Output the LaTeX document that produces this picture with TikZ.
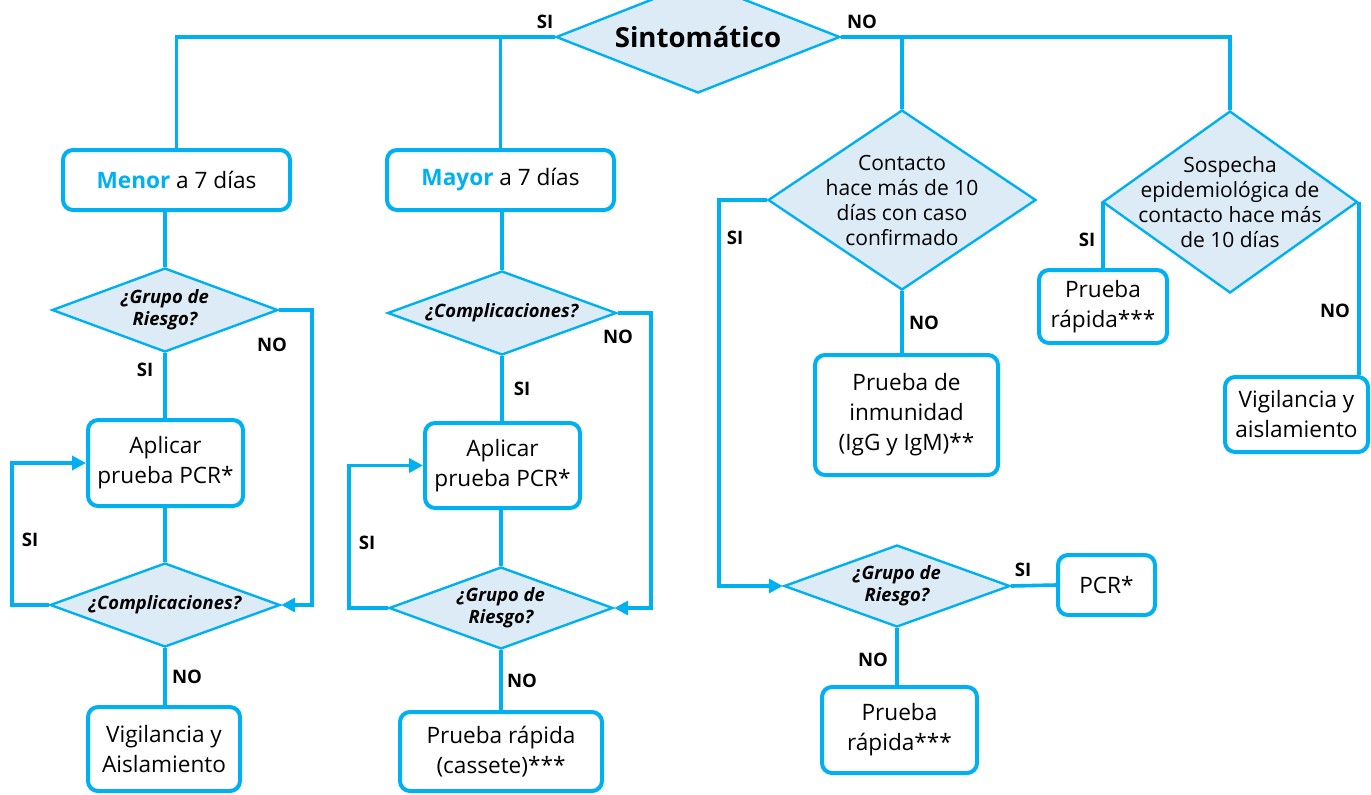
\documentclass[tikz,border=0pt]{standalone}
\usepackage{fontspec}
\setmainfont{Open Sans}
\usetikzlibrary{shapes.geometric,arrows.meta}
\definecolor{celeste}{RGB}{0,176,240}
\definecolor{relleno}{RGB}{221,235,247}
\tikzset{>={Triangle[length=7pt,width=7pt]}}
\tikzset{
  caja/.style={draw=celeste,line width=2pt,rounded corners=5pt,fill=white,align=center,inner sep=0pt,font=\fontsize{11.3}{15}\selectfont},
  rombo/.style={diamond,draw=celeste,line width=1.2pt,fill=relleno,align=center,inner sep=0pt},
  preg/.style={font=\fontsize{9.2}{11}\selectfont\bfseries\itshape},
  etiq/.style={font=\fontsize{9.3}{10}\selectfont\bfseries},
  linea/.style={draw=celeste,line width=1.8pt},
}

\begin{document}
\begin{tikzpicture}[x=0.5pt,y=-0.5pt]
\useasboundingbox (0,0) rectangle (1371,794);

\begin{scope}[every node/.style={rombo}]
\node[minimum width=142pt,minimum height=56pt,aspect=2.5,font=\fontsize{13.8}{16}\selectfont\bfseries] (sint) at (698,37) {Sintomático};
\node[preg,minimum width=113pt,minimum height=42pt,aspect=2.7] (grupoA) at (165,310) {¿Grupo de\\Riesgo?};
\node[preg,minimum width=115pt,minimum height=42pt,aspect=2.7] (compA) at (165,605) {¿Complicaciones?};
\node[preg,minimum width=114.5pt,minimum height=42pt,aspect=2.7] (compB) at (502,313) {¿Complicaciones?};
\node[preg,minimum width=112pt,minimum height=41pt,aspect=2.7] (grupoB) at (501,608) {¿Grupo de\\Riesgo?};
\node[preg,minimum width=113pt,minimum height=41pt,aspect=2.7] (grupoC) at (897,586) {¿Grupo de\\Riesgo?};
\node[minimum width=134pt,minimum height=90pt,aspect=1.49,inner sep=-8pt,font=\fontsize{10.5}{12.5}\selectfont] (contacto) at (902,200) {Contacto\\hace más de 10\\días con caso\\confirmado};
\node[minimum width=127.5pt,minimum height=91pt,aspect=1.4,inner sep=-8pt,font=\fontsize{10.5}{12.5}\selectfont] (sospecha) at (1230,202) {Sospecha\\epidemiológica de\\contacto hace más\\de 10 días};
\end{scope}

\begin{scope}[every node/.style={caja}]
\node[minimum width=113.5pt,minimum height=30pt] (menor) at (176.5,180) {{\color{celeste}\bfseries Menor} a 7 días};
\node[minimum width=113.5pt,minimum height=30pt] (mayor) at (500.5,180) {{\color{celeste}\bfseries Mayor} a 7 días};
\node[minimum width=77.5pt,minimum height=43pt] (aplA) at (165.5,463) {Aplicar\\prueba PCR*};
\node[minimum width=76pt,minimum height=42pt] (vigA) at (164,749) {Vigilancia y\\Aislamiento};
\node[minimum width=77.5pt,minimum height=42.5pt] (aplB) at (502.5,465.5) {Aplicar\\prueba PCR*};
\node[minimum width=101pt,minimum height=39.5pt] (rapB) at (501,751.5) {Prueba rápida\\(cassete)***};
\node[minimum width=91.5pt,minimum height=60pt] (inmun) at (906.5,415) {Prueba de\\inmunidad\\(IgG y IgM)**};
\node[minimum width=48.5pt,minimum height=30pt] (pcr) at (1106.5,585) {PCR*};
\node[minimum width=77.5pt,minimum height=43pt] (rapC) at (899.5,730) {Prueba\\rápida***};
\node[minimum width=64pt,minimum height=36.5pt] (rapD) at (1103,306.5) {Prueba\\rápida***};
\node[minimum width=71.5pt,minimum height=37.5pt] (vigD) at (1296.5,414.5) {Vigilancia y\\aislamiento};
\end{scope}

\begin{scope}[every node/.style={etiq}]
\node (siTop) at (545,22) {SI};
\node (noTop) at (862,22) {NO};
\node (noGA) at (272,345) {NO};
\node (siGA) at (145,370) {SI};
\node (siCA) at (30,540) {SI};
\node (noCA) at (187,677) {NO};
\node (noCB) at (618,337) {NO};
\node (siCB) at (522,389) {SI};
\node (siGB) at (367,543) {SI};
\node (noGB) at (522,681) {NO};
\node (siCo) at (735,238) {SI};
\node (noCo) at (924,323) {NO};
\node (siGC) at (1023,570) {SI};
\node (noGC) at (873,660) {NO};
\node (siSo) at (1087,240) {SI};
\node (noSo) at (1335,311) {NO};
\end{scope}

\begin{scope}[every path/.style={linea}]
\draw (sint.west) -| (menor.north);
\draw (sint.west) -| (mayor.north);
\draw (sint.east) -| (contacto.north);
\draw (sint.east) -| (sospecha.north);

\draw (menor.south -| grupoA.north) -- (grupoA.north);
\draw [->] (grupoA.east) -- ++(33,0) |- (compA.east);
\draw (grupoA.south) -- (grupoA.south |- aplA.north);
\draw (compA.north |- aplA.south) -- (compA.north);
\draw [->] (compA.west) -- ++(-37,0) |- (aplA.west);
\draw (compA.south) -- (compA.south |- vigA.north);

\draw (mayor.south -| compB.north) -- (compB.north);
\draw [->] (compB.east) -- ++(33,0) |- (grupoB.east);
\draw (compB.south) -- (compB.south |- aplB.north);
\draw (grupoB.north |- aplB.south) -- (grupoB.north);
\draw [->] (grupoB.west) -- ++(-39,0) |- (aplB.west);
\draw (grupoB.south) -- (grupoB.south |- rapB.north);

\draw [->] (contacto.west) -- ++(-48,0) |- (grupoC.west);
\draw (contacto.south) -- (contacto.south |- inmun.north);
\draw (grupoC.east) -- (pcr.west);
\draw (grupoC.south) -- (grupoC.south |- rapC.north);

\draw (rapD.north) -- (rapD.north |- sospecha.west);
\draw (sospecha.east) -- (sospecha.east |- vigD.north);
\end{scope}
\end{tikzpicture}
\end{document}
